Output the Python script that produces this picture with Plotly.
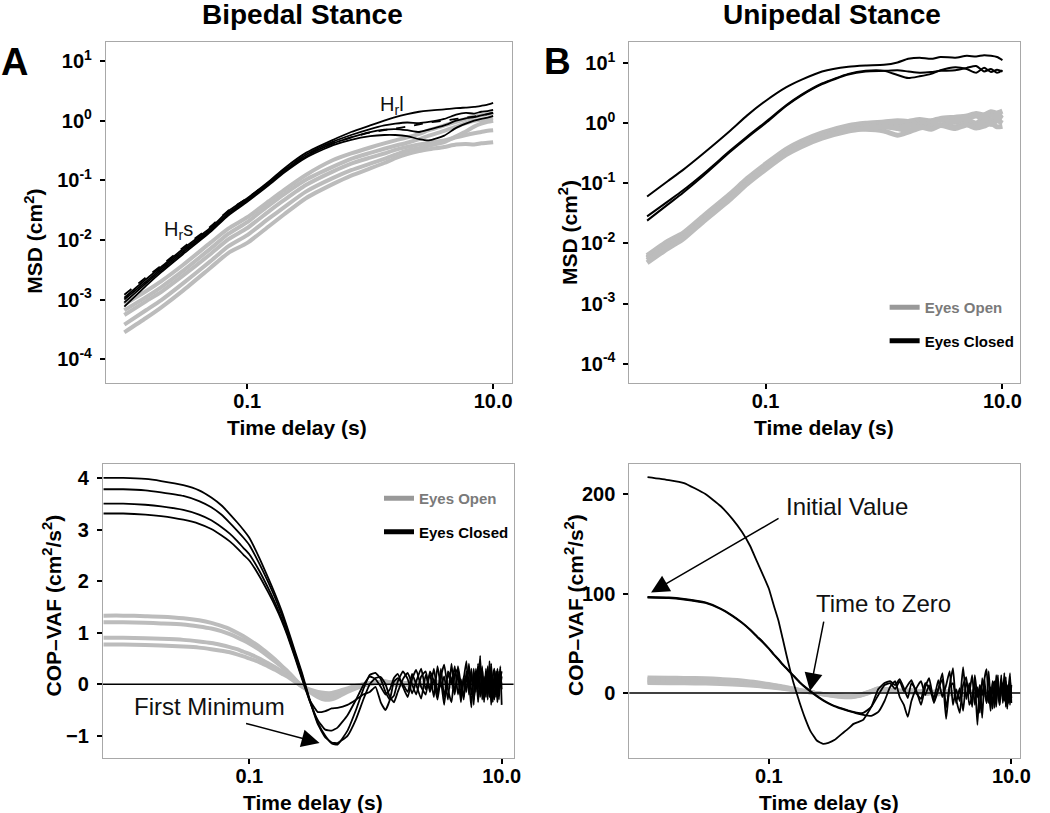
import plotly.graph_objects as go

W, H = 1050, 813
FONT = "Liberation Sans, Arial, Helvetica, sans-serif"

# ---------------- time grids (s) ----------------
msd_t = [0.01, 0.015, 0.02, 0.03, 0.05, 0.07, 0.1, 0.15, 0.2, 0.3, 0.5, 0.7, 1.0,
         1.3, 1.6, 2.0, 2.5, 3.0, 4.0, 5.0, 6.0, 7.0, 8.0, 9.0, 10.0]

vaf_t_bl_head = [0.007, 0.01, 0.015, 0.02, 0.03, 0.04, 0.05, 0.06, 0.07, 0.08, 0.09, 0.10,
                 0.12, 0.14, 0.16, 0.18, 0.20, 0.23, 0.26, 0.30, 0.35, 0.40, 0.45, 0.50,
                 0.60, 0.70, 0.80, 0.90]
vaf_t_br_head = [0.01, 0.015, 0.02, 0.03, 0.04, 0.05, 0.06, 0.07, 0.08, 0.09, 0.10, 0.11,
                 0.12, 0.13, 0.14, 0.15, 0.16, 0.18, 0.20, 0.22, 0.25, 0.28, 0.31, 0.35,
                 0.40, 0.45, 0.50, 0.55, 0.60, 0.70, 0.80, 0.90]
vaf_t_tail = [1.0, 1.1, 1.2, 1.3, 1.4, 1.5, 1.65, 1.8, 1.95, 2.1, 2.3, 2.5, 2.7, 2.9, 3.1,
              3.3, 3.5, 3.75, 4.0, 4.25, 4.5, 4.75, 5.0, 5.25, 5.5, 5.75, 6.0, 6.25, 6.5,
              6.75, 7.0, 7.25, 7.5, 7.75, 8.0, 8.25, 8.5, 8.75, 9.0, 9.25, 9.5, 9.75, 10.0]
vaf_t_gray_tail = [1.0, 1.2, 1.5, 2.0, 2.5, 3.0, 3.5, 4.0, 5.0, 6.0, 7.0, 8.0, 9.0, 10.0]

# ---------------- A: bipedal MSD (log10 cm^2 readings) ----------------
msd_bi_ec1 = [-2.97, -2.66, -2.45, -2.15, -1.80, -1.52, -1.30, -1.02, -0.80, -0.54, -0.32, -0.19, -0.08,
              0.00, 0.06, 0.11, 0.15, 0.17, 0.19, 0.21, 0.22, 0.23, 0.25, 0.27, 0.30]
msd_bi_ec2 = [-3.00, -2.70, -2.48, -2.18, -1.83, -1.55, -1.32, -1.04, -0.83, -0.57, -0.35, -0.24, -0.14,
              -0.08, -0.05, -0.03, -0.04, -0.02, 0.03, 0.10, 0.13, 0.12, 0.15, 0.16, 0.18]
msd_bi_ec3 = [-3.05, -2.73, -2.51, -2.21, -1.85, -1.57, -1.34, -1.06, -0.85, -0.60, -0.38, -0.28, -0.19,
              -0.15, -0.14, -0.16, -0.19, -0.15, -0.08, 0.00, 0.04, 0.06, 0.09, 0.11, 0.13]
msd_bi_ec4 = [-3.12, -2.77, -2.54, -2.24, -1.87, -1.59, -1.36, -1.08, -0.87, -0.62, -0.41, -0.32, -0.26,
              -0.24, -0.24, -0.26, -0.31, -0.33, -0.25, -0.12, -0.05, 0.00, 0.03, 0.05, 0.08]
msd_bi_fit = [-2.92, -2.63, -2.43, -2.13, -1.78, -1.51, -1.30, -1.03, -0.82, -0.58, -0.38, -0.28, -0.20,
              -0.16, -0.13, -0.10, -0.06, -0.03, 0.00, 0.03, 0.05, 0.07, 0.09, 0.11, 0.13]
msd_bi_eo1 = [-3.08, -2.86, -2.69, -2.42, -2.05, -1.81, -1.62, -1.35, -1.16, -0.91, -0.66, -0.55, -0.45,
              -0.38, -0.33, -0.28, -0.22, -0.16, -0.08, -0.02, 0.03, 0.07, 0.09, 0.11, 0.13]
msd_bi_eo2 = [-3.18, -2.96, -2.79, -2.52, -2.15, -1.90, -1.70, -1.42, -1.23, -0.99, -0.77, -0.64, -0.54,
              -0.47, -0.42, -0.37, -0.31, -0.25, -0.17, -0.10, -0.04, 0.00, 0.01, 0.03, 0.04]
msd_bi_eo3 = [-3.26, -3.03, -2.87, -2.60, -2.24, -1.99, -1.80, -1.52, -1.33, -1.08, -0.85, -0.72, -0.62,
              -0.55, -0.49, -0.44, -0.40, -0.37, -0.33, -0.28, -0.24, -0.21, -0.19, -0.17, -0.16]
msd_bi_eo4 = [-3.42, -3.18, -3.01, -2.73, -2.36, -2.11, -1.92, -1.64, -1.45, -1.19, -0.96, -0.83, -0.72,
              -0.64, -0.57, -0.50, -0.46, -0.42, -0.36, -0.26, -0.18, -0.10, -0.05, -0.02, 0.00]
msd_bi_eo5 = [-3.55, -3.31, -3.13, -2.85, -2.47, -2.22, -2.05, -1.77, -1.57, -1.30, -1.06, -0.92, -0.80,
              -0.71, -0.63, -0.56, -0.51, -0.48, -0.44, -0.40, -0.39, -0.40, -0.38, -0.37, -0.36]

# ---------------- B: unipedal MSD (log10 cm^2 readings) ----------------
msd_uni_ec1 = [-1.22, -0.96, -0.78, -0.50, -0.13, 0.13, 0.37, 0.60, 0.72, 0.86, 0.94, 0.96, 0.97,
               1.01, 1.07, 1.09, 1.07, 1.10, 1.09, 1.12, 1.11, 1.13, 1.12, 1.10, 1.05]
msd_uni_ec2 = [-1.55, -1.30, -1.12, -0.84, -0.46, -0.22, 0.02, 0.30, 0.47, 0.66, 0.82, 0.87, 0.87,
               0.80, 0.75, 0.78, 0.82, 0.88, 0.93, 0.90, 0.84, 0.92, 0.85, 0.89, 0.86]
msd_uni_ec3 = [-1.62, -1.35, -1.16, -0.87, -0.48, -0.24, 0.00, 0.29, 0.46, 0.65, 0.81, 0.86, 0.87,
               0.88, 0.86, 0.84, 0.85, 0.87, 0.88, 0.92, 0.95, 0.86, 0.90, 0.84, 0.88]
msd_uni_eo1 = [-2.20, -1.96, -1.83, -1.54, -1.18, -0.92, -0.68, -0.43, -0.30, -0.16, -0.04, 0.00, 0.02,
               0.04, 0.03, 0.06, 0.04, 0.08, 0.10, 0.12, 0.16, 0.14, 0.19, 0.17, 0.20]
msd_uni_eo2 = [-2.23, -1.99, -1.86, -1.57, -1.21, -0.95, -0.71, -0.46, -0.33, -0.19, -0.07, -0.03, -0.01,
               0.00, 0.02, -0.01, 0.03, 0.06, 0.02, 0.08, 0.12, 0.07, 0.13, 0.10, 0.14]
msd_uni_eo3 = [-2.25, -2.01, -1.88, -1.59, -1.23, -0.97, -0.73, -0.48, -0.35, -0.21, -0.09, -0.05, -0.04,
               -0.07, -0.04, -0.02, 0.00, -0.03, 0.04, 0.06, 0.00, 0.09, 0.05, 0.11, 0.08]
msd_uni_eo4 = [-2.28, -2.04, -1.90, -1.61, -1.25, -0.99, -0.75, -0.50, -0.37, -0.23, -0.11, -0.10, -0.13,
               -0.20, -0.15, -0.08, -0.05, -0.02, -0.06, 0.00, -0.04, 0.03, -0.02, 0.04, 0.00]
msd_uni_eo5 = [-2.32, -2.08, -1.93, -1.63, -1.27, -1.01, -0.77, -0.52, -0.39, -0.25, -0.13, -0.09, -0.06,
               -0.09, -0.12, -0.06, -0.10, -0.04, -0.09, -0.03, -0.08, -0.05, 0.00, -0.06, -0.05]

# ---------------- bipedal COP-VAF (cm^2/s^2) ----------------
vaf_bi_ec1_head = [4.00, 4.00, 3.98, 3.94, 3.86, 3.76, 3.62, 3.47, 3.30, 3.14, 2.99, 2.84, 2.45, 2.08,
                   1.75, 1.43, 1.10, 0.64, 0.24, -0.28, -0.75, -1.00, -1.15, -1.17, -0.90, -0.50, -0.10, 0.18]
vaf_bi_ec2_head = [3.78, 3.78, 3.76, 3.72, 3.65, 3.55, 3.43, 3.29, 3.13, 2.98, 2.84, 2.70, 2.34, 2.00,
                   1.68, 1.36, 1.05, 0.60, 0.20, -0.30, -0.78, -1.03, -1.13, -1.14, -1.00, -0.68, -0.30, 0.00]
vaf_bi_ec3_head = [3.50, 3.50, 3.48, 3.45, 3.38, 3.29, 3.18, 3.05, 2.92, 2.78, 2.64, 2.52, 2.20, 1.88,
                   1.58, 1.28, 0.98, 0.55, 0.15, -0.32, -0.70, -0.88, -0.90, -0.84, -0.60, -0.30, -0.02, 0.15]
vaf_bi_ec4_head = [3.31, 3.31, 3.29, 3.26, 3.19, 3.11, 3.01, 2.89, 2.77, 2.64, 2.51, 2.40, 2.10, 1.80,
                   1.52, 1.24, 0.95, 0.52, 0.12, -0.30, -0.54, -0.52, -0.47, -0.46, -0.40, -0.30, -0.20, -0.15]
vaf_bi_ec1_tail = [0.22, 0.10, -0.15, -0.30, -0.22, 0.05, 0.25, 0.10, -0.18, 0.05, 0.30, -0.10, 0.20, -0.25,
                   0.35, -0.05, 0.15, -0.30, 0.40, -0.15, 0.20, -0.35, 0.10, 0.45, -0.20, 0.25, -0.40, 0.30,
                   -0.10, 0.55, -0.30, 0.15, -0.25, 0.35, -0.15, 0.25, -0.35, 0.20, -0.20, 0.30, -0.30, 0.10, 0.25]
vaf_bi_ec2_tail = [0.12, 0.14, 0.00, -0.25, -0.35, -0.15, 0.10, 0.22, 0.00, -0.20, 0.15, 0.25, -0.15, 0.10,
                   -0.20, 0.30, -0.25, 0.20, 0.00, 0.35, -0.20, 0.10, -0.30, 0.25, 0.05, -0.45, 0.30, -0.15,
                   0.40, -0.25, 0.10, -0.30, 0.30, -0.10, 0.20, -0.40, 0.15, 0.30, -0.25, 0.10, -0.15, 0.35, -0.40]
vaf_bi_ec3_tail = [0.10, -0.05, -0.20, -0.10, 0.12, 0.20, -0.05, -0.25, 0.10, 0.28, -0.05, -0.20, 0.25, 0.05,
                   -0.30, 0.15, 0.38, -0.10, -0.35, 0.20, 0.30, -0.25, 0.15, -0.15, 0.40, -0.20, 0.05, 0.25,
                   -0.35, 0.15, 0.30, -0.20, 0.10, -0.30, 0.45, -0.05, -0.25, 0.20, 0.10, -0.35, 0.25, -0.05, 0.15]
vaf_bi_ec4_tail = [-0.05, -0.35, -0.50, -0.30, 0.05, 0.12, 0.00, -0.15, 0.20, 0.00, -0.28, 0.18, -0.10, 0.30,
                   -0.15, 0.05, -0.40, 0.25, 0.10, -0.20, 0.35, 0.00, -0.25, 0.15, -0.10, 0.30, -0.30, 0.05,
                   0.20, -0.20, 0.35, -0.35, 0.20, 0.05, -0.25, 0.40, -0.10, -0.30, 0.25, 0.15, -0.20, 0.30, -0.10]
vaf_bi_eo1_head = [1.33, 1.33, 1.32, 1.31, 1.28, 1.24, 1.19, 1.13, 1.07, 1.00, 0.93, 0.86, 0.73, 0.60,
                   0.48, 0.36, 0.26, 0.10, -0.03, -0.15, -0.25, -0.30, -0.29, -0.25, -0.15, -0.08, -0.03, 0.00]
vaf_bi_eo2_head = [1.20, 1.20, 1.19, 1.18, 1.16, 1.12, 1.08, 1.03, 0.97, 0.91, 0.85, 0.79, 0.67, 0.55,
                   0.44, 0.34, 0.24, 0.09, -0.03, -0.13, -0.22, -0.26, -0.26, -0.22, -0.12, -0.05, -0.02, 0.02]
vaf_bi_eo3_head = [0.90, 0.90, 0.89, 0.88, 0.86, 0.83, 0.80, 0.76, 0.72, 0.68, 0.63, 0.59, 0.50, 0.41,
                   0.33, 0.25, 0.17, 0.06, -0.04, -0.12, -0.18, -0.21, -0.20, -0.17, -0.10, -0.05, 0.00, 0.02]
vaf_bi_eo4_head = [0.77, 0.77, 0.76, 0.75, 0.73, 0.71, 0.68, 0.65, 0.62, 0.58, 0.54, 0.50, 0.43, 0.35,
                   0.28, 0.21, 0.15, 0.05, -0.04, -0.10, -0.15, -0.17, -0.17, -0.14, -0.08, -0.03, 0.00, 0.01]
vaf_bi_eo1_tail = [0.03, 0.05, -0.02, 0.06, -0.04, 0.05, -0.03, 0.07, -0.05, 0.04, -0.06, 0.05, -0.03, 0.02]
vaf_bi_eo2_tail = [0.04, 0.01, 0.06, -0.03, 0.05, -0.05, 0.04, -0.02, 0.06, -0.06, 0.03, -0.04, 0.05, 0.00]
vaf_bi_eo3_tail = [0.03, 0.06, 0.00, 0.04, -0.06, 0.03, 0.05, -0.05, 0.02, 0.06, -0.04, 0.02, -0.05, 0.03]
vaf_bi_eo4_tail = [0.02, 0.04, 0.03, -0.05, 0.02, 0.06, -0.04, 0.03, -0.06, 0.02, 0.05, -0.03, 0.04, -0.02]

# ---------------- unipedal COP-VAF (cm^2/s^2) ----------------
vaf_uni_ec1_head = [217, 214, 211, 200, 188, 175, 162, 148, 132, 118, 105, 88, 73, 55, 38, 23, 10, -10,
                    -26, -38, -48, -51, -50, -47, -41, -36, -31, -29, -27, -14, 4, 10]
vaf_uni_ec2_head = [96.5, 96, 94.5, 91, 85, 78, 71, 64, 57, 51, 45, 39, 34, 29, 25, 21, 17.5, 11, 6, 2,
                    -3, -7, -10, -13, -15.5, -17.5, -19, -20, -20, -14, -2, 8]
vaf_uni_ec3_head = [96, 95.5, 94, 90.5, 84.5, 77.5, 70.5, 63.5, 56.5, 50.5, 44.5, 38.5, 33.5, 28.5, 24.5,
                    20.5, 17, 10.5, 5.5, 1.5, -3.5, -7.5, -10.5, -13.5, -16, -18, -19.5, -21, -22, -23, -19, -8]
vaf_uni_ec1_tail = [12, 8, 14, 5, -5, 10, 2, -12, 6, 15, -8, 4, 20, -15, 8, 25, -10, 5, -18, 12, 0, 18,
                    -12, 6, -20, 15, 2, -10, 22, -8, 10, -15, 18, 0, -12, 14, -6, 20, -14, 8, -10, 15, -5]
vaf_uni_ec2_tail = [10, 4, 12, 2, 8, 13, 0, -6, 10, 5, -5, 13, -4, 8, 22, -12, 4, -8, 26, -6, 10, -14,
                    18, -4, 8, -25, 14, 24, -10, 6, -16, 12, -4, 18, -12, 4, 10, -8, 16, -14, 6, 20, -10]
vaf_uni_ec3_tail = [6, 12, -4, -12, -24, -8, 5, 12, -2, 8, -10, 4, 14, -26, 6, 10, -6, -20, 8, 16, -12, -4,
                    10, -32, 8, -2, 14, -10, 2, -18, 12, 6, -14, 10, -6, 18, -10, 2, 12, -16, 6, -12, 8]
vaf_uni_eo1_head = [15.5, 15.4, 15.2, 14.8, 14.2, 13.4, 12.6, 11.7, 10.8, 9.9, 9.0, 8.2, 7.4, 6.6, 5.9, 5.2,
                    4.5, 3.2, 2.0, 1.0, -0.3, -1.4, -2.3, -3.2, -3.9, -4.2, -3.9, -3.0, -1.8, 1.0, 3.5, 3.0]
vaf_uni_eo2_head = [14.0, 13.9, 13.7, 13.4, 12.8, 12.1, 11.4, 10.6, 9.8, 9.0, 8.2, 7.4, 6.7, 6.0, 5.3, 4.7,
                    4.1, 2.9, 1.8, 0.9, -0.3, -1.2, -2.0, -2.8, -3.5, -3.8, -3.6, -2.8, -1.6, 1.2, 3.8, 3.4]
vaf_uni_eo3_head = [12.5, 12.4, 12.2, 11.9, 11.4, 10.8, 10.2, 9.5, 8.8, 8.1, 7.3, 6.6, 6.0, 5.4, 4.8, 4.2,
                    3.6, 2.6, 1.6, 0.8, -0.3, -1.1, -1.8, -2.5, -3.1, -3.4, -3.2, -2.4, -1.2, 1.6, 4.2, 3.8]
vaf_uni_eo4_head = [11.0, 10.9, 10.8, 10.5, 10.0, 9.5, 9.0, 8.4, 7.7, 7.1, 6.5, 5.9, 5.3, 4.7, 4.2, 3.7,
                    3.2, 2.3, 1.4, 0.7, -0.2, -0.9, -1.6, -2.2, -2.8, -3.0, -2.8, -2.0, -0.8, 2.0, 4.5, 4.0]
vaf_uni_eo5_head = [10.0, 9.9, 9.8, 9.5, 9.1, 8.6, 8.1, 7.6, 7.0, 6.4, 5.9, 5.3, 4.8, 4.3, 3.8, 3.3,
                    2.9, 2.1, 1.3, 0.6, -0.2, -0.9, -1.5, -2.0, -2.5, -2.7, -2.5, -1.8, -0.6, 2.2, 4.8, 4.3]
vaf_uni_eo1_tail = [2.5, 1.5, 3.0, -1.0, 2.0, -2.0, 1.5, -1.5, 2.0, -2.0, 1.0, -1.5, 1.5, 0.0]
vaf_uni_eo2_tail = [2.8, 2.0, 0.5, 2.5, -1.5, 1.5, -2.0, 1.0, -1.0, 2.0, -1.5, 1.0, -1.0, 0.5]
vaf_uni_eo3_tail = [3.0, 1.0, 2.5, 0.5, 1.0, -1.0, 2.0, -2.0, 1.5, -1.0, 2.0, -1.5, 0.5, -0.5]
vaf_uni_eo4_tail = [3.2, 2.2, 1.0, -0.5, 2.5, 0.5, -1.5, 2.0, -1.5, 1.0, -2.0, 1.5, -1.0, 1.0]
vaf_uni_eo5_tail = [3.5, 2.5, 1.5, 1.0, -1.0, 2.0, 0.0, -1.0, 2.0, -1.5, 1.5, -1.0, 2.0, -0.5]

# ---------------- tick labels ----------------
msd_tickvals = [1e-4, 1e-3, 1e-2, 1e-1, 1, 10]
msd_ticktext = ["10<sup>-4</sup>", "10<sup>-3</sup>", "10<sup>-2</sup>", "10<sup>-1</sup>",
                "10<sup>0</sup>", "10<sup>1</sup>"]
time_tickvals = [0.1, 10]
time_ticktext = ["0.1", "10.0"]
vaf_bi_tickvals = [-1, 0, 1, 2, 3, 4]
vaf_bi_ticktext = ["\u22121", "0", "1", "2", "3", "4"]
vaf_uni_tickvals = [0, 100, 200]
vaf_uni_ticktext = ["0", "100", "200"]

GRAY = "#bcbcbc"
BLACK = "#000000"

fig = go.Figure()


def add_line(x, y, xa, ya, color, width, dash="solid", smoothing=0.6):
    fig.add_trace(go.Scatter(
        x=x, y=y, mode="lines", xaxis=xa, yaxis=ya, showlegend=False, hoverinfo="skip",
        line=dict(color=color, width=width, dash=dash, shape="spline", smoothing=smoothing)))


def from_log(row):
    return [10 ** v for v in row]


# Panel A (top left)
for row in [msd_bi_eo1, msd_bi_eo2, msd_bi_eo3, msd_bi_eo4, msd_bi_eo5]:
    add_line(msd_t, from_log(row), "x", "y", GRAY, 4)
for row in [msd_bi_ec1, msd_bi_ec2, msd_bi_ec3, msd_bi_ec4]:
    add_line(msd_t, from_log(row), "x", "y", BLACK, 1.8)
add_line(msd_t, from_log(msd_bi_fit), "x", "y", BLACK, 1.8, dash="dash")

# Panel B (top right)
for row in [msd_uni_eo1, msd_uni_eo2, msd_uni_eo3, msd_uni_eo4, msd_uni_eo5]:
    add_line(msd_t, from_log(row), "x2", "y2", GRAY, 5)
for row in [msd_uni_ec1, msd_uni_ec2, msd_uni_ec3]:
    add_line(msd_t, from_log(row), "x2", "y2", BLACK, 2)

# Bipedal VAF (bottom left)
for h, t in [(vaf_bi_eo1_head, vaf_bi_eo1_tail), (vaf_bi_eo2_head, vaf_bi_eo2_tail),
             (vaf_bi_eo3_head, vaf_bi_eo3_tail), (vaf_bi_eo4_head, vaf_bi_eo4_tail)]:
    add_line(vaf_t_bl_head + vaf_t_gray_tail, h + t, "x3", "y3", GRAY, 4)
for h, t in [(vaf_bi_ec1_head, vaf_bi_ec1_tail), (vaf_bi_ec2_head, vaf_bi_ec2_tail),
             (vaf_bi_ec3_head, vaf_bi_ec3_tail), (vaf_bi_ec4_head, vaf_bi_ec4_tail)]:
    add_line(vaf_t_bl_head + vaf_t_tail, h + t, "x3", "y3", BLACK, 1.8, smoothing=0.4)

# Unipedal VAF (bottom right)
for h, t in [(vaf_uni_eo1_head, vaf_uni_eo1_tail), (vaf_uni_eo2_head, vaf_uni_eo2_tail),
             (vaf_uni_eo3_head, vaf_uni_eo3_tail), (vaf_uni_eo4_head, vaf_uni_eo4_tail),
             (vaf_uni_eo5_head, vaf_uni_eo5_tail)]:
    add_line(vaf_t_br_head + vaf_t_gray_tail, h + t, "x4", "y4", GRAY, 4)
for h, t in [(vaf_uni_ec1_head, vaf_uni_ec1_tail), (vaf_uni_ec2_head, vaf_uni_ec2_tail),
             (vaf_uni_ec3_head, vaf_uni_ec3_tail)]:
    add_line(vaf_t_br_head + vaf_t_tail, h + t, "x4", "y4", BLACK, 1.8, smoothing=0.4)

# Legend entries
for lg, xa, ya in [("legend", "x2", "y2"), ("legend2", "x3", "y3")]:
    fig.add_trace(go.Scatter(x=[None], y=[None], mode="lines", xaxis=xa, yaxis=ya,
                             line=dict(color="#999999", width=5), legend=lg, legendgroup=lg + "eo",
                             name='<span style="color:#7a7a7a">Eyes Open</span>'))
    fig.add_trace(go.Scatter(x=[None], y=[None], mode="lines", xaxis=xa, yaxis=ya,
                             line=dict(color="#000000", width=5), legend=lg, legendgroup=lg + "ec",
                             name="Eyes Closed"))

# zero lines
for xa, ya in [("x3", "y3"), ("x4", "y4")]:
    fig.add_shape(type="line", xref=xa + " domain", yref=ya, x0=0, x1=1, y0=0, y1=0,
                  line=dict(color="black", width=1.6))

tickfont = dict(family=FONT, size=20, color="black", weight="bold")
base = dict(showgrid=False, zeroline=False, showline=True, mirror=True, linecolor="#a8a8a8",
            linewidth=1, ticks="outside", ticklen=5, tickwidth=1.5, tickcolor="black",
            tickfont=tickfont, tickmode="array")
xbase = dict(base, ticklabelstandoff=-5)
ybase = dict(base, ticklabelstandoff=4)

dom_top = [1 - 383 / H, 1 - 42 / H]
dom_bot = [1 - 758 / H, 1 - 464 / H]

fig.update_layout(
    width=W, height=H, autosize=False,
    margin=dict(l=0, r=0, t=0, b=0),
    paper_bgcolor="white", plot_bgcolor="white",
    xaxis=dict(xbase, domain=[107 / W, 517 / W], anchor="y", type="log", range=[-2.15, 1.15],
               tickvals=time_tickvals, ticktext=time_ticktext),
    yaxis=dict(ybase, domain=dom_top, anchor="x", type="log", range=[-4.40, 1.32],
               tickvals=msd_tickvals, ticktext=msd_ticktext),
    xaxis2=dict(xbase, domain=[636 / W, 1031 / W], anchor="y2", type="log", range=[-2.15, 1.15],
                tickvals=time_tickvals, ticktext=time_ticktext),
    yaxis2=dict(ybase, domain=dom_top, anchor="x2", type="log", range=[-4.32, 1.35],
                tickvals=msd_tickvals, ticktext=msd_ticktext),
    xaxis3=dict(xbase, domain=[104 / W, 519 / W], anchor="y3", type="log", range=[-2.16, 1.094],
                tickvals=time_tickvals, ticktext=time_ticktext),
    yaxis3=dict(ybase, domain=dom_bot, anchor="x3", range=[-1.43, 4.27],
                tickvals=vaf_bi_tickvals, ticktext=vaf_bi_ticktext),
    xaxis4=dict(xbase, domain=[636 / W, 1031 / W], anchor="y4", type="log", range=[-2.15, 1.073],
                tickvals=time_tickvals, ticktext=time_ticktext),
    yaxis4=dict(ybase, domain=dom_bot, anchor="x4", range=[-65.3, 230.2],
                tickvals=vaf_uni_tickvals, ticktext=vaf_uni_ticktext),
    legend=dict(x=894 / W, y=1 - 291 / H, xanchor="left", yanchor="top", bgcolor="rgba(0,0,0,0)",
                font=dict(family=FONT, size=15, color="black", weight="bold"),
                traceorder="grouped", tracegroupgap=11, itemwidth=30),
    legend2=dict(x=383 / W, y=1 - 482 / H, xanchor="left", yanchor="top", bgcolor="rgba(0,0,0,0)",
                 font=dict(family=FONT, size=15, color="black", weight="bold"),
                 traceorder="grouped", tracegroupgap=11, itemwidth=30),
)

ann = []


def text_ann(text, px, py, size, bold=True, angle=0, color="black"):
    ann.append(dict(text=text, x=px / W, y=1 - py / H, xref="paper", yref="paper",
                    xanchor="center", yanchor="middle", showarrow=False, textangle=angle,
                    font=dict(family=FONT, size=size, color=color,
                              weight="bold" if bold else "normal")))


# titles and panel letters
text_ann("Bipedal Stance", 306, 15, 28)
text_ann("Unipedal Stance", 841, 15, 28)
text_ann("A", 15, 62, 38)
text_ann("B", 563, 62, 37)
# axis titles
text_ann("MSD (cm<sup>2</sup>)", 34, 241, 21, angle=-90)
text_ann("MSD (cm<sup>2</sup>)", 574, 232, 21, angle=-90)
text_ann("COP\u2013VAF (cm<sup>2</sup>/s<sup>2</sup>)", 53, 605, 21, angle=-90)
text_ann("COP\u2013VAF (cm<sup>2</sup>/s<sup>2</sup>)", 580, 605, 21, angle=-90)
text_ann("Time delay (s)", 300, 427, 21)
text_ann("Time delay (s)", 833, 427, 21)
text_ann("Time delay (s)", 316, 802, 21)
text_ann("Time delay (s)", 838, 802, 21)
# in-panel labels
text_ann("H<sub>r</sub>s", 180, 231, 20, bold=False, color="#111111")
text_ann("H<sub>r</sub>l", 396, 105, 20, bold=False, color="#111111")
text_ann("First Minimum", 212, 706, 24, bold=False, color="#111111")
text_ann("Initial Value", 856, 506, 24, bold=False, color="#111111")
text_ann("Time to Zero", 893, 603, 24, bold=False, color="#111111")

# arrows (tips in data coordinates, tails as pixel offsets)
arrow_style = dict(text="", showarrow=True, arrowhead=2, arrowsize=2.4, arrowwidth=1.5,
                   arrowcolor="black", standoff=0, startstandoff=0, axref="pixel", ayref="pixel")
ann.append(dict(arrow_style, xref="x3", yref="y3", x=-0.443, y=-1.14, ax=-75, ay=-20))
ann.append(dict(arrow_style, xref="x4", yref="y4", x=-1.971, y=101, ax=129, ay=-75))
ann.append(dict(arrow_style, xref="x4", yref="y4", x=-0.66, y=2, ax=14, ay=-71))

fig.update_layout(annotations=ann)

fig.write_html("out.html", config={"displayModeBar": False},
               post_script="document.body.style.margin='0px';document.body.style.overflow='hidden';")
